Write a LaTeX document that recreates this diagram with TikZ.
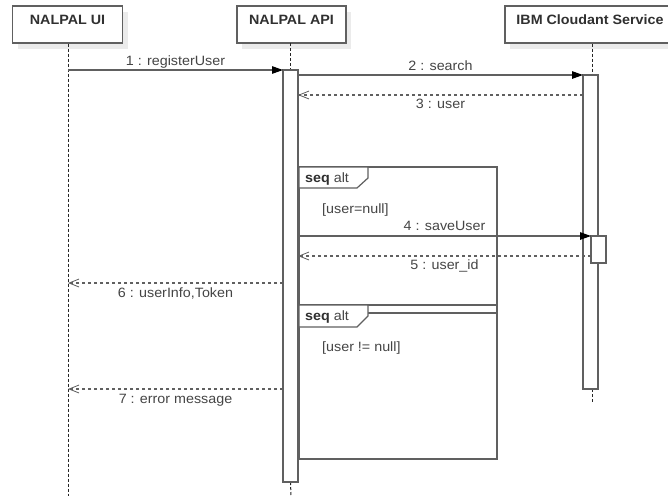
\documentclass[tikz,border=0pt]{standalone}
\usepackage{fontspec}
\setmainfont{Liberation Sans}[FakeStretch=1.06]
\usetikzlibrary{arrows.meta,shadows}
\definecolor{ln}{HTML}{606060}
\definecolor{tx}{HTML}{454545}
\definecolor{hd}{HTML}{303030}
\definecolor{shd}{HTML}{EBEBEB}

\begin{document}
\begin{tikzpicture}[x=1pt,y=-1pt,
  every node/.style={font=\fontsize{13.5}{16}\selectfont, text=tx},
  headbox/.style={draw=ln, line width=1.2pt, fill=white, minimum width=#1,
    minimum height=37pt, inner sep=0pt, outer sep=0pt,
    drop shadow={shadow xshift=5pt, shadow yshift=-6pt, fill=shd, opacity=1}},
  headtext/.style={anchor=base, text=hd, font=\fontsize{13.5}{16}\selectfont\bfseries},
  lifeline/.style={draw=black!85, line width=1pt, dash pattern=on 3pt off 2pt},
  actbar/.style={draw=ln, line width=1.2pt, fill=white, minimum width=15pt,
    minimum height=#1, inner sep=0pt, outer sep=0pt},
  frameline/.style={draw=ln, line width=1.2pt},
  callmsg/.style={draw=ln, line width=1.2pt, -{Triangle[length=11pt,width=7.5pt,color=black]}},
  retmsg/.style={draw=ln, line width=1.1pt, dash pattern=on 3pt off 3pt,
    -{Straight Barb[length=10pt,width=8pt,line width=0.8pt]}},
  msglabel/.style={midway, anchor=base, inner sep=0pt},
  guard/.style={anchor=base west, inner sep=0pt},
]
\clip (0,0) rectangle (668,496);
\fill[white] (0,0) rectangle (668,496);

% participants
\node[headbox=110pt] (ui) at (67.5,24.5) {};
\node[headbox=109pt] (api) at (291.5,24.5) {};
\node[headbox=173pt] (db) at (591.5,24.5) {};
\node[headtext] (uit) at (67.5,24) {NALPAL UI};
\node[headtext] (apit) at (291.5,24) {NALPAL API};
\node[headtext] (dbt) at (590,24) {IBM Cloudant Service};

% activation bars
\node[actbar=412pt] (apibar) at (290.5,276) {};
\node[actbar=314pt] (dbbar) at (590.5,232) {};

% lifelines
\coordinate (uiend) at (68,496);
\coordinate (apiend) at (291,496);
\coordinate (dbend) at (592,403);
\draw[lifeline] (68,43.6) -- (uiend);
\draw[lifeline] (api.south -| apibar.center) -- (apibar.north);
\draw[lifeline] (apibar.south) -- (apiend);
\draw[lifeline] (592,43.6) -- (592,75);
\draw[lifeline] (592,389) -- (dbend);

% redraw bars over their lifelines
\node[actbar=412pt] at (apibar) {};
\node[actbar=314pt] at (dbbar) {};

% combined fragments
\draw[frameline] (299,167) rectangle (497,313);
\draw[frameline, fill=white] (299,167) -- (368,167) -- (368,178) -- (357,188) -- (299,188) -- cycle;
\node[guard] (f1t) at (305,182) {\textbf{\color{hd}seq} alt};
\node[guard] (g1) at (322,213) {[user=null]};

\draw[frameline] (299,305) rectangle (497,459);
\draw[frameline, fill=white] (299,305) -- (368,305) -- (368,316) -- (357,327) -- (299,327) -- cycle;
\node[guard] (f2t) at (305,320) {\textbf{\color{hd}seq} alt};
\node[guard] (g2) at (322,351) {[user != null]};

% nested activation
\node[actbar=27pt] (nestbar) at (598.5,249.5) {};

% messages
\coordinate (m1a) at (68,70);
\draw[callmsg] (m1a) -- (apibar.north west)
  node[msglabel, yshift=5pt] {1 : registerUser};

\coordinate (m2a) at (298,75);
\draw[callmsg] (m2a) -- (dbbar.north west)
  node[msglabel, yshift=5pt] {2 : search};

\coordinate (m3a) at (583,95);
\coordinate (m3b) at (298,95);
\draw[retmsg] (m3a) -- (m3b)
  node[msglabel, yshift=-13pt] {3 : user};

\coordinate (m4a) at (298,236);
\draw[callmsg] (m4a) -- (nestbar.north west)
  node[msglabel, yshift=6pt] {4 : saveUser};

\coordinate (m5a) at (591,256);
\coordinate (m5b) at (298,256);
\draw[retmsg] (m5a) -- (m5b)
  node[msglabel, yshift=-13pt] {5 : user\_id};

\coordinate (m6a) at (283,283);
\coordinate (m6b) at (68,283);
\draw[retmsg] (m6a) -- (m6b)
  node[msglabel, yshift=-14pt] {6 : userInfo,Token};

\coordinate (m7a) at (283,389);
\coordinate (m7b) at (68,389);
\draw[retmsg] (m7a) -- (m7b)
  node[msglabel, yshift=-14pt] {7 : error message};
\end{tikzpicture}
\end{document}
